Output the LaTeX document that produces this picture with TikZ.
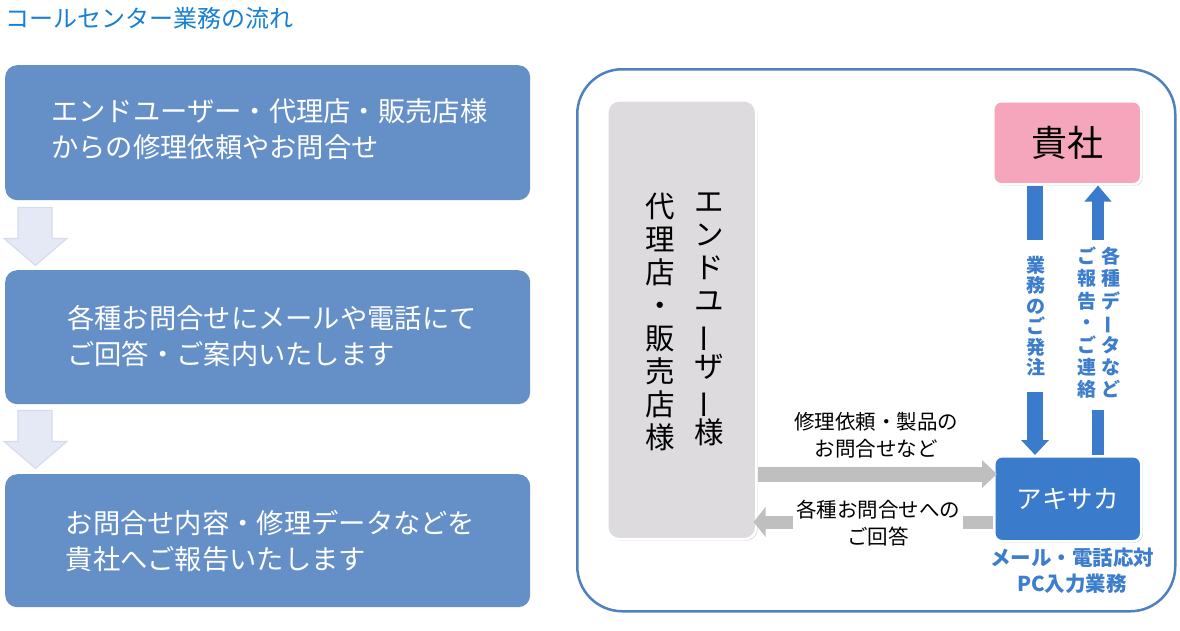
\documentclass[tikz,border=0pt]{standalone}
\usepackage{fontspec}
\usepackage{graphicx}
\setmainfont{Noto Sans CJK JP}
\usetikzlibrary{arrows.meta,shadows,calc}
\definecolor{flowblue}{RGB}{101,143,199}
\definecolor{arrowfill}{RGB}{229,233,246}
\definecolor{arrowline}{RGB}{214,220,239}
\definecolor{titleblue}{RGB}{24,128,210}
\definecolor{panelblue}{RGB}{79,129,189}
\definecolor{usergray}{RGB}{221,219,222}
\definecolor{kishapink}{RGB}{246,166,188}
\definecolor{akiblue}{RGB}{58,123,204}
\definecolor{labelblue}{RGB}{60,125,205}
\definecolor{arrowgray}{RGB}{191,191,191}
\newcommand\vbar{\smash{\rotatebox[origin=c]{90}{ー}}}
\begin{document}
\begin{tikzpicture}[x=1pt,y=-1pt,
  flowbox/.style={fill=flowblue, rounded corners=12pt, minimum width=525pt, anchor=north west, inner sep=0pt},
  flowtext/.style={text=white, font=\fontsize{27.3}{35.5}\selectfont, align=left, anchor=west, inner sep=0pt},
  blockarrow/.style={fill=arrowfill, draw=arrowline, line width=1.2pt, line join=miter},
  panelbox/.style={draw=panelblue, line width=2.5pt, rounded corners=45pt, anchor=north west, inner sep=0pt},
  shadowbox/.style={draw=white, line width=2.5pt, anchor=north west, inner sep=0pt,
     drop shadow={shadow xshift=1.5pt, shadow yshift=-1.5pt, opacity=0.3}},
  vtext/.style={font=\fontsize{29.5}{33}\selectfont, align=center, anchor=north, inner sep=0pt},
  bluelabel/.style={text=labelblue, fill=white, font=\fontsize{19}{20.5}\selectfont\bfseries, align=center, inner xsep=2pt, inner ysep=0pt},
  bluearrow/.style={draw=akiblue},
  grayarrow/.style={draw=arrowgray},
  graylabel/.style={font=\fontsize{20.5}{27}\selectfont, align=center, inner sep=0pt},
  bluebold/.style={text=labelblue, font=\fontsize{20.5}{26}\selectfont\bfseries, align=center, inner sep=0pt}
]
\useasboundingbox (0,0) rectangle (1180,630);
\fill[white] (0,0) rectangle (1180,630);

% title
\node[anchor=west, text=titleblue, font=\fontsize{24}{28}\selectfont, inner sep=0pt] (title) at (5,18) {コールセンター業務の流れ};

% left flow
\node[flowbox, minimum height=135pt] (b1) at (5,65) {};
\node[flowtext] (t1) at (51,129) {エンドユーザー・代理店・販売店様\\からの修理依頼やお問合せ};
\node[flowbox, minimum height=134pt] (b2) at (5,270) {};
\node[flowtext] (t2) at (67,336) {各種お問合せにメールや電話にて\\ご回答・ご案内いたします};
\node[flowbox, minimum height=133pt] (b3) at (5,474) {};
\node[flowtext] (t3) at (65.5,541) {お問合せ内容・修理データなどを\\貴社へご報告いたします};

\draw[blockarrow] ([shift={(13,7)}]b1.south west) -- ++(34,0) -- ++(0,31) -- ++(15,0) -- ++(-31.5,27) -- ++(-31.5,-27) -- ++(14,0) -- cycle;
\draw[blockarrow] ([shift={(13,6)}]b2.south west) -- ++(34,0) -- ++(0,31) -- ++(15,0) -- ++(-31.5,27) -- ++(-31.5,-27) -- ++(14,0) -- cycle;

% right panel
\node[panelbox, minimum width=598pt, minimum height=542pt] (panel) at (576,68) {};

\node[shadowbox, fill=usergray, rounded corners=12pt, minimum width=149pt, minimum height=439pt] (users) at (606,99) {};
\node[vtext] (c1) at (709,193) {エ\\ン\\ド\\ユ\\\vbar\\ザ\\\vbar\\様};
\node[vtext] (c2) at (660,193) {代\\理\\店\\・\\販\\売\\店\\様};

\node[shadowbox, fill=kishapink, rounded corners=8pt, minimum width=148pt, minimum height=83pt, font=\fontsize{36}{40}\selectfont] (kisha) at (992,100) {貴社};
\node[shadowbox, fill=akiblue, rounded corners=8pt, minimum width=147pt, minimum height=85pt, text=white, font=\fontsize{25.5}{30}\selectfont] (aki) at (993,455) {アキサカ};

% blue arrows
\coordinate (xd) at (1035,0);
\coordinate (xu) at (1098,0);
\draw[bluearrow, line width=16pt, -{Triangle[width=27pt,length=15pt]}] (kisha.south -| xd) -- (aki.north -| xd);
\draw[bluearrow, line width=12pt, -{Triangle[width=26pt,length=16pt]}] (aki.north -| xu) -- (kisha.south -| xu);
\node[bluelabel, minimum height=152pt] (lab1) at (1036,316) {業\\務\\の\\ご\\発\\注};
\node[bluelabel, minimum height=170pt] (lab2) at (1099,325) {\begin{tabular}{@{}c@{\hspace{5pt}}c@{}}ご&各\\報&種\\告&デ\\・&\vbar\\ご&タ\\連&な\\絡&ど\end{tabular}};

% gray arrows
\coordinate (ya) at (0,474);
\coordinate (yb) at (0,522);
\draw[grayarrow, line width=15pt, -{Triangle[width=27pt,length=15pt]}] (users.east |- ya) -- ([xshift=4pt]aki.west |- ya);
\draw[grayarrow, line width=13pt, -{Triangle[width=29pt,length=12pt]}] (aki.west |- yb) -- ([xshift=-4pt]users.east |- yb);
\node[graylabel] (lq) at (876,435) {修理依頼・製品の\\お問合せなど};
\node[graylabel, fill=white, minimum width=170pt, inner ysep=2pt] (la) at (878,523) {各種お問合せへの\\ご回答};

\node[bluebold] (ak2) at (1072,571) {メール・電話応対\\PC入力業務};
\end{tikzpicture}
\end{document}
